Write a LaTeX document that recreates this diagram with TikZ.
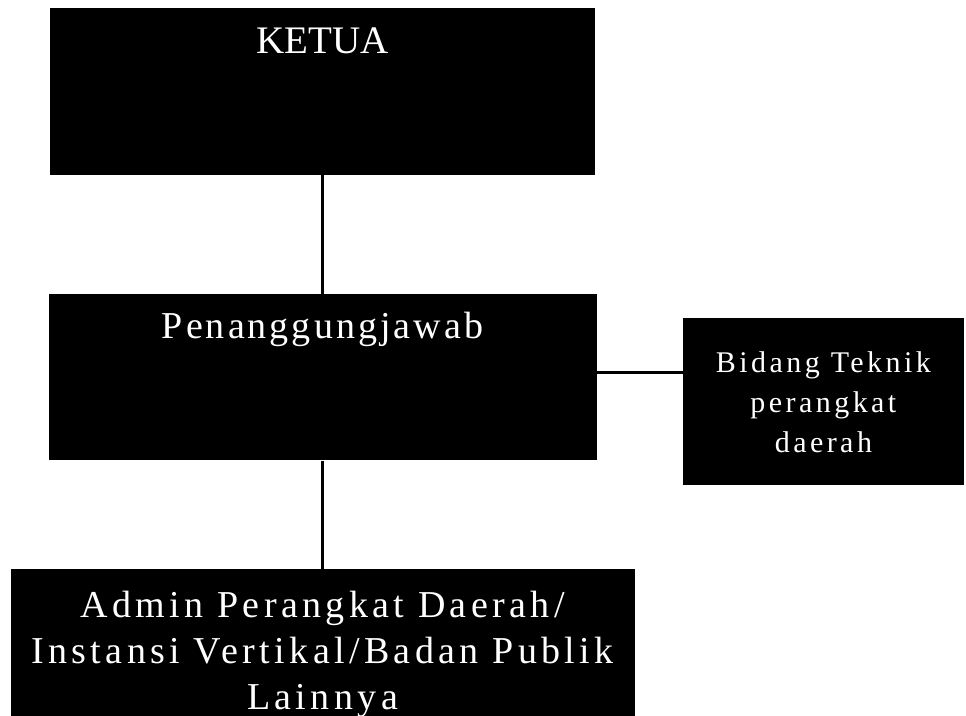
\documentclass[tikz,border=0pt]{standalone}
\usepackage{fontspec}
\setmainfont{Liberation Serif}
\newfontfamily\widefont[LetterSpace=8]{Liberation Serif}
\newfontfamily\widerfont[LetterSpace=11.5]{Liberation Serif}
\usetikzlibrary{positioning}

\begin{document}
\begin{tikzpicture}[
  x=1pt, y=-1pt,
  box/.style={fill=black, draw=none, inner sep=0pt, text=white, align=center},
  title/.style={text=white, inner sep=0pt},
  link/.style={line width=3pt}
]
  \useasboundingbox (0,0) rectangle (966,715);

  \node[box, minimum width=545pt, minimum height=167pt] (ketua) at (322.5,91.5) {};
  \node[box, minimum width=548pt, minimum height=166pt, below=119pt of ketua] (penang) {};
  \node[box, minimum width=281pt, minimum height=167pt, right=86pt of penang, yshift=-24.5pt,
        font=\widerfont\fontsize{30}{40}\selectfont] (bidang) {Bidang Teknik\\perangkat\\daerah};
  \node[box, minimum width=624pt, minimum height=172pt, below=108pt of penang,
        font=\widerfont\fontsize{38}{46}\selectfont] (admin)
        {Admin Perangkat Daerah/\\Instansi Vertikal/Badan Publik\\Lainnya};

  \node[title, anchor=base, font=\fontsize{39}{44}\selectfont] (ketualbl)
        at ([yshift=-46pt]ketua.north) {KETUA};
  \node[title, anchor=base, font=\widefont\fontsize{38}{44}\selectfont] (penanglbl)
        at ([yshift=-44pt]penang.north) {Penanggungjawab};

  \draw[link] (ketua.south) -- (penang.north);
  \draw[link] ([yshift=5pt]penang.east) -- ([yshift=5pt]penang.east -| bidang.west);
  \draw[link] (penang.south) -- (admin.north);
\end{tikzpicture}
\end{document}
